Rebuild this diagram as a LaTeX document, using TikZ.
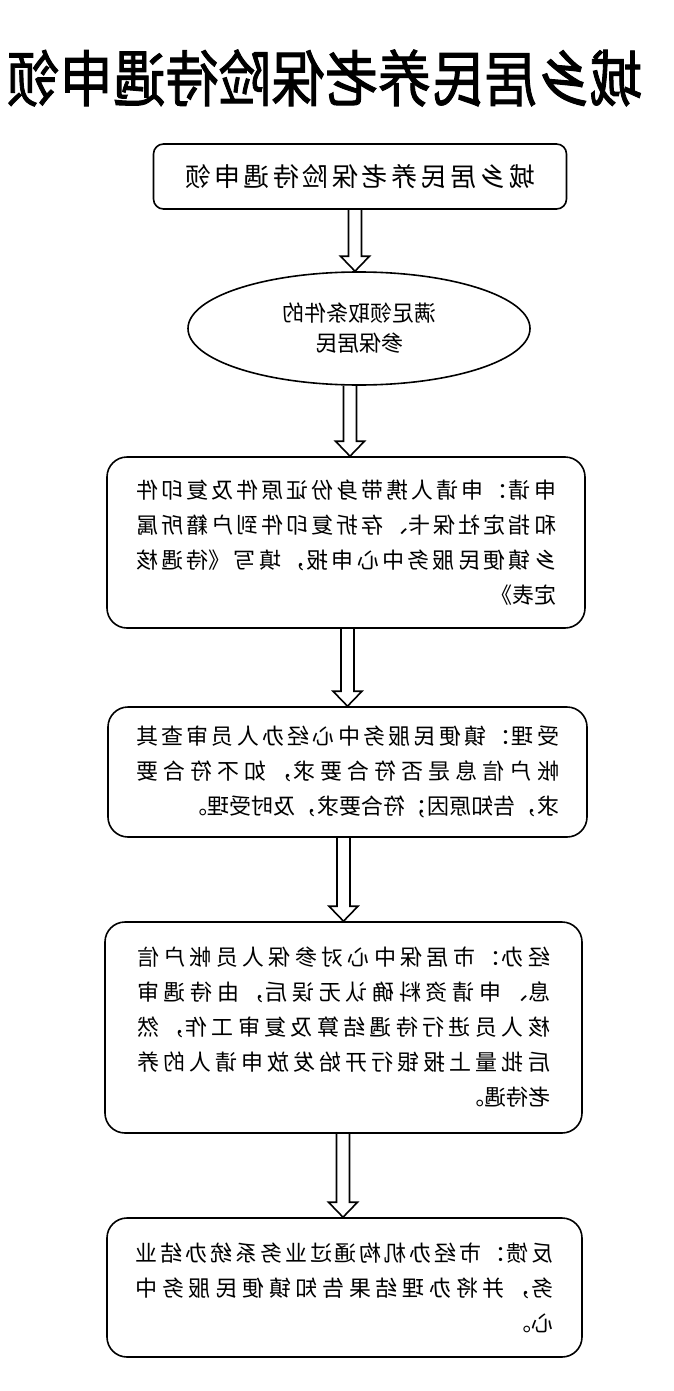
\documentclass[tikz,border=0pt]{standalone}
\usepackage{fontspec}
\usepackage{graphicx}
\setmainfont{Noto Sans CJK SC}
\newfontfamily\titlefont[FakeBold=1.6]{Noto Sans CJK SC}
\usetikzlibrary{shapes.geometric,calc}

\XeTeXlinebreaklocale "zh"
\XeTeXlinebreakskip=0pt plus 6pt

% the reference is printed mirrored
\newcommand{\mirror}[1]{\scalebox{-1}[1]{#1}}
\newcommand{\boxtext}[2]{\mirror{\parbox{#1}{\fontsize{22}{35}\selectfont #2}}}
\newcommand{\flowarrow}[3][0pt]{%
  \draw[hollowarrow] let \p1=(#2.south), \p2=([xshift=#1]#3.north) in
    (\x2-6.5pt,\y1) -- (\x2-6.5pt,\y2+15pt) -- (\x2-14.5pt,\y2+15pt) -- (\x2,\y2)
    -- (\x2+14.5pt,\y2+15pt) -- (\x2+6.5pt,\y2+15pt) -- (\x2+6.5pt,\y1);}

\tikzset{
  flowbox/.style={draw, line width=1.6pt, rounded corners=20pt, inner sep=0pt},
  startbox/.style={flowbox, rounded corners=10pt},
  condition/.style={draw, ellipse, line width=1.6pt, inner sep=0pt,
    minimum width=342pt, minimum height=113pt},
  hollowarrow/.style={line width=1.6pt, line join=miter}
}

\begin{document}
\begin{tikzpicture}[x=1pt,y=-1pt]
  \useasboundingbox (0,0) rectangle (674,1391);

  \node[anchor=east, inner sep=0pt] (title) at (643,78)
    {\scalebox{-1}[1.15]{\fontsize{53}{60}\selectfont\titlefont 城乡居民养老保险待遇申领}};

  \node[startbox, minimum width=413pt, minimum height=65pt] (start) at (360,176.5)
    {\mirror{\parbox{350pt}{\fontsize{26}{30}\selectfont\parfillskip=0pt 城乡居民养老保险待遇申领}}};

  \node[condition] (elig) at (359,328.5)
    {\mirror{\parbox{220pt}{\centering\fontsize{22}{30}\selectfont 满足领取条件的\\参保居民}}};

  \node[flowbox, minimum width=478pt, minimum height=171pt] (apply) at (346,542.5)
    {\boxtext{420pt}{申请：申请人携带身份证原件及复印件\linebreak
      和指定社保卡、存折复印件到户籍所属\linebreak
      乡镇便民服务中心申报，填写《待遇核\linebreak
      定表》}};

  \node[flowbox, minimum width=479pt, minimum height=130pt] (accept) at (347.5,772)
    {\boxtext{423pt}{受理：镇便民服务中心经办人员审查其\linebreak
      帐户信息是否符合要求，如不符合要\linebreak
      求，告知原因；符合要求，及时受理。}};

  \node[flowbox, minimum width=477pt, minimum height=211pt] (handle) at (343.5,1027.5)
    {\boxtext{413pt}{经办：市居保中心对参保人员帐户信\linebreak
      息、申请资料确认无误后，由待遇审\linebreak
      核人员进行待遇结算及复审工作，然\linebreak
      后批量上报银行开始发放申请人的养\linebreak
      老待遇。}};

  \node[flowbox, minimum width=475pt, minimum height=139pt] (reply) at (344.5,1287.5)
    {\boxtext{418pt}{反馈：市经办机构通过业务系统办结业\linebreak
      务，并将办理结果告知镇便民服务中\linebreak
      心。}};

  \flowarrow[-4pt]{start}{elig}
  \flowarrow[4pt]{elig}{apply}
  \flowarrow{apply}{accept}
  \flowarrow{accept}{handle}
  \flowarrow[-1.5pt]{handle}{reply}
\end{tikzpicture}
\end{document}
